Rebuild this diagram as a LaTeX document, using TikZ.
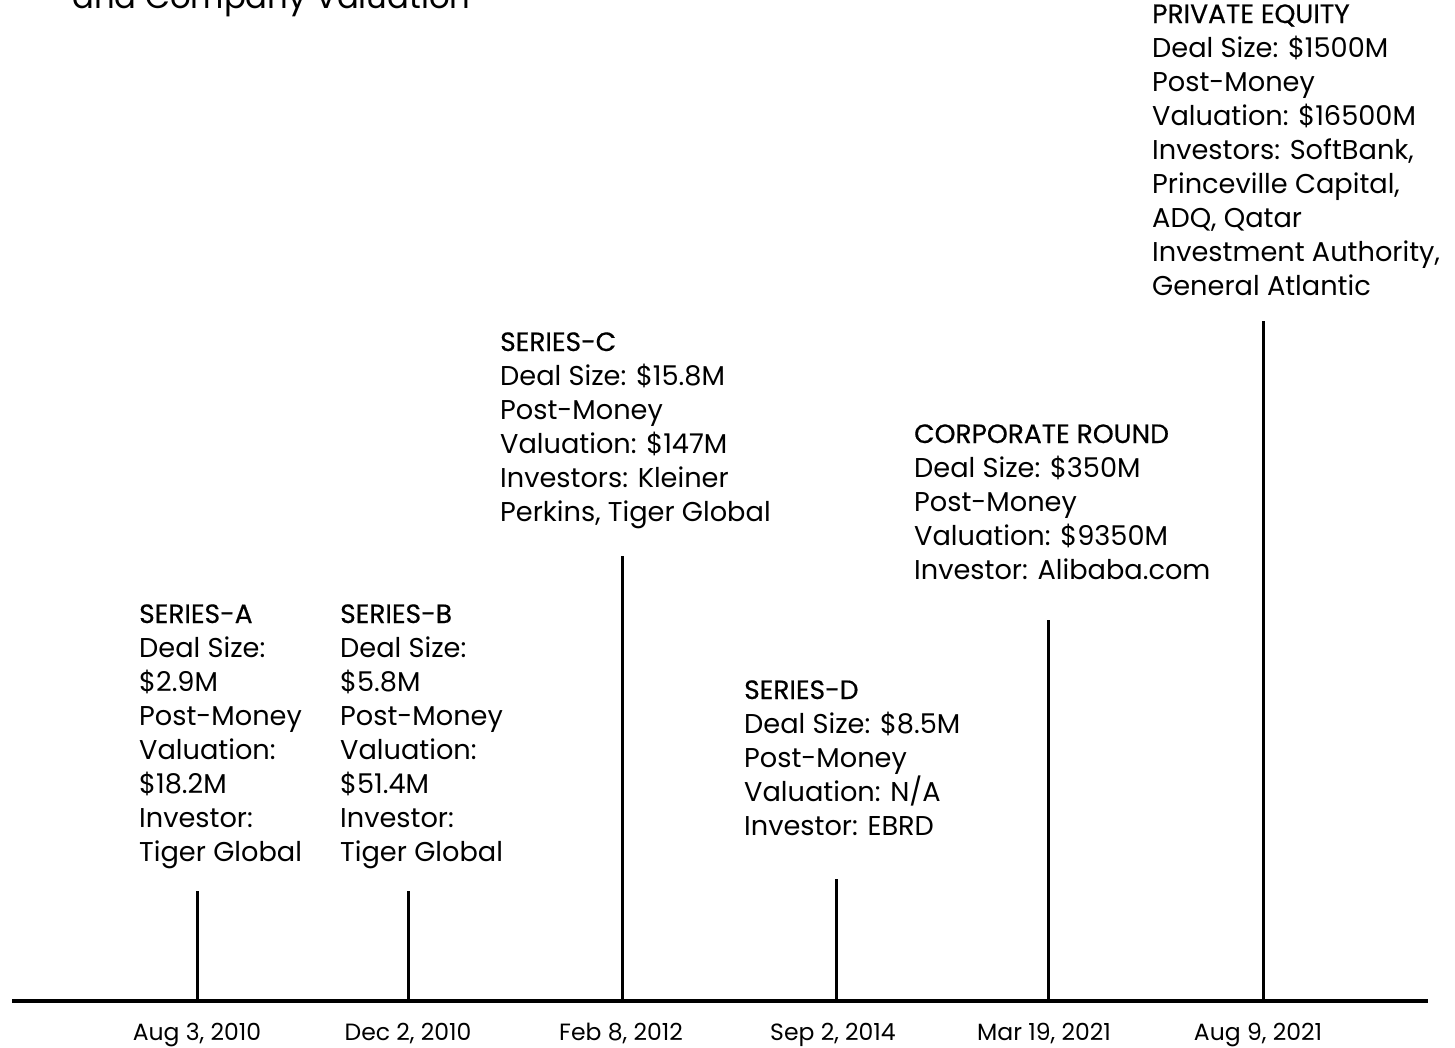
\documentclass[tikz,border=0pt]{standalone}
\usepackage{fontspec}
\setmainfont{Poppins}
\newfontfamily\headfont[FakeBold=0.5]{Poppins}
\newcommand{\roundhead}[1]{{\headfont\fontsize{26.5}{34}\selectfont #1}}
\begin{document}
\begin{tikzpicture}[x=1pt,y=-1pt,
  info/.style={anchor=base west,inner sep=0pt,align=left,
    font=\fontsize{27.2}{34}\selectfont},
  datelabel/.style={anchor=base,inner sep=0pt,font=\fontsize{23.5}{26}\selectfont},
  stem/.style={line width=3pt},
  axis/.style={line width=4pt}]
\useasboundingbox (0,0) rectangle (1455,1047);

% heading (upper line runs off the top edge)
\node[anchor=base west,inner sep=0pt,font=\fontsize{32.3}{36}\selectfont] (title) at (72,8) {and Company Valuation};

% time axis
\coordinate (axL) at (12,1001);
\coordinate (axR) at (1428,1001);
\draw[axis] (axL) -- (axR);

% round markers
\foreach \n/\x/\t in {a/197/891, b/408/891, c/622/556, d/836/879, e/1048/620, f/1263/321}{
  \coordinate (base\n) at (\x,1001);
  \coordinate (top\n) at (\x,\t);
  \draw[stem] (base\n) -- (top\n);
}

% dates
\node[datelabel] (da) at (197,1040) {Aug 3, 2010};
\node[datelabel] (db) at (408,1040) {Dec 2, 2010};
\node[datelabel] (dc) at (621,1040) {Feb 8, 2012};
\node[datelabel] (dd) at (833,1040) {Sep 2, 2014};
\node[datelabel] (de) at (1044,1040) {Mar 19, 2021};
\node[datelabel] (df) at (1258,1040) {Aug 9, 2021};

% round descriptions (anchored at the baseline of the last line)
\node[info] (ia) at (139,861) {\roundhead{SERIES-A}\\Deal Size:\\\$2.9M\\Post-Money\\Valuation:\\\$18.2M\\Investor:\\Tiger Global};
\node[info] (ib) at (340,861) {\roundhead{SERIES-B}\\Deal Size:\\\$5.8M\\Post-Money\\Valuation:\\\$51.4M\\Investor:\\Tiger Global};
\node[info] (ic) at (500,521) {\roundhead{SERIES-C}\\Deal Size: \$15.8M\\Post-Money\\Valuation: \$147M\\Investors: Kleiner\\Perkins, Tiger Global};
\node[info] (id) at (744,835) {\roundhead{SERIES-D}\\Deal Size: \$8.5M\\Post-Money\\Valuation: N/A\\Investor: EBRD};
\node[info] (ie) at (914,579) {\roundhead{CORPORATE ROUND}\\Deal Size: \$350M\\Post-Money\\Valuation: \$9350M\\Investor: Alibaba.com};
\node[info] (if) at (1152,295) {\roundhead{PRIVATE EQUITY}\\Deal Size: \$1500M\\Post-Money\\Valuation: \$16500M\\Investors: SoftBank,\\Princeville Capital,\\ADQ, Qatar\\Investment Authority,\\General Atlantic};
\end{tikzpicture}
\end{document}
